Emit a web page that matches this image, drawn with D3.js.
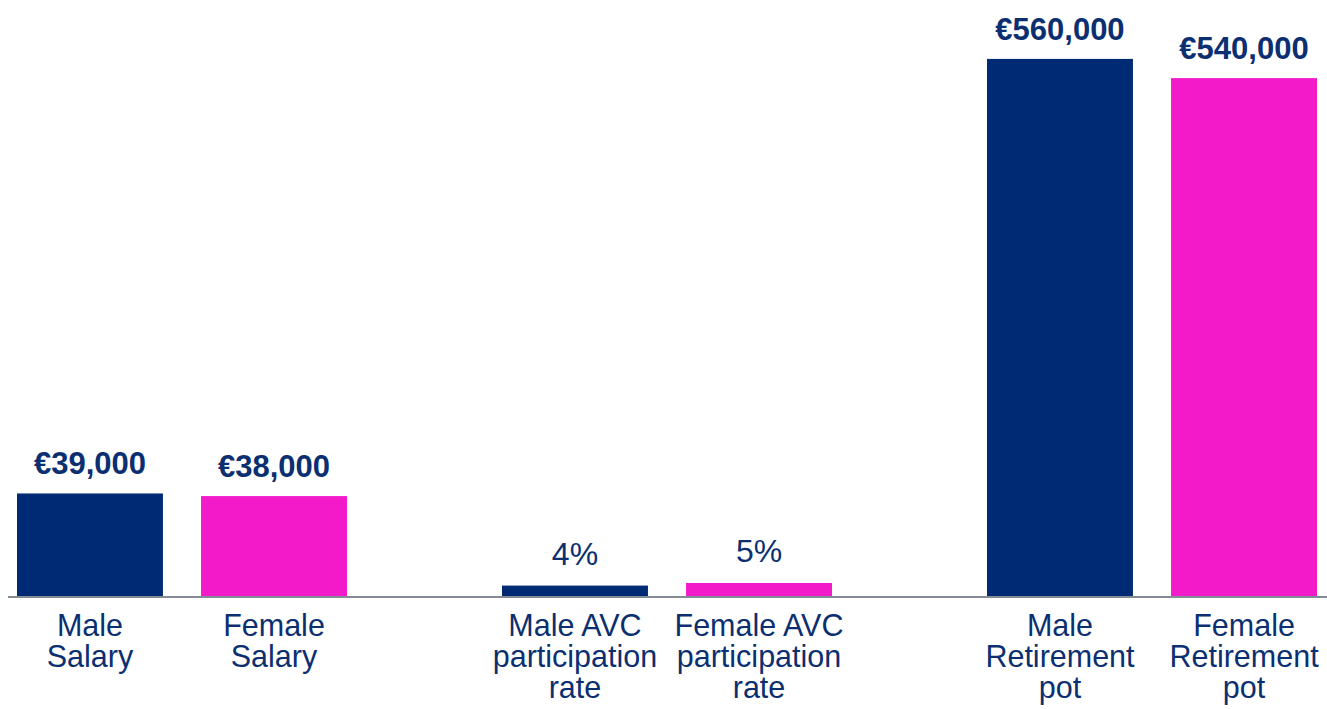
<!DOCTYPE html>
<html>
<head>
<meta charset="utf-8">
<script src="https://cdn.jsdelivr.net/npm/d3@7"></script>
<style>
  html, body { margin: 0; padding: 0; background: #ffffff; }
  svg { display: block; }
  text { font-family: "Liberation Sans", Arial, sans-serif; }
</style>
</head>
<body>
<svg id="chart" width="1327" height="709"></svg>
<script>
// Comparison groups, each with a male and a female bar
const groups = ["Salary", "AVC participation rate", "Retirement pot"];
const genders = ["Male", "Female"];

// Values per group (male, female)
const salaryValues = [39000, 38000];
const avcRateValues = [4, 5];           // percent
const retirementPotValues = [560000, 540000];

// Category labels under each bar, one array of lines per bar
const salaryLabels = [["Male", "Salary"], ["Female", "Salary"]];
const avcLabels = [["Male AVC", "participation", "rate"], ["Female AVC", "participation", "rate"]];
const potLabels = [["Male", "Retirement", "pot"], ["Female", "Retirement", "pot"]];

// Each group is measured on its own scale; upper end of each domain
const groupScaleMax = [205000, 207, 562000];

const euro = d3.format(",");
const rows = [
  { group: groups[0], values: salaryValues, labels: salaryLabels, kind: "euro" },
  { group: groups[1], values: avcRateValues, labels: avcLabels, kind: "pct" },
  { group: groups[2], values: retirementPotValues, labels: potLabels, kind: "euro" }
];

const navy = "#002b74";
const pink = "#f31ac9";
const textColor = "#0b2f70";

const svg = d3.select("#chart");
const chartWidth = 1327, baseline = 596, plotTop = 57;

const x0 = d3.scaleBand().domain(groups).range([17, 1317]).paddingInner(0.3196).paddingOuter(0);
const x1 = d3.scaleBand().domain(genders).range([0, x0.bandwidth()]).paddingInner(0.207).paddingOuter(0);
const color = d3.scaleOrdinal().domain(genders).range([navy, pink]);

const yScales = groups.map((g, i) =>
  d3.scaleLinear().domain([0, groupScaleMax[i]]).range([baseline, plotTop]));

const bars = [];
rows.forEach((r, gi) => {
  genders.forEach((gender, k) => {
    bars.push({ group: r.group, gi, gender, value: r.values[k], lines: r.labels[k], kind: r.kind });
  });
});

const center = d => x0(d.group) + x1(d.gender) + x1.bandwidth() / 2;
const g = svg.append("g");

// Bars
g.selectAll("rect.bar").data(bars).join("rect")
  .attr("class", "bar")
  .attr("x", d => x0(d.group) + x1(d.gender))
  .attr("width", x1.bandwidth())
  .attr("y", d => yScales[d.gi](d.value))
  .attr("height", d => baseline - yScales[d.gi](d.value))
  .attr("fill", d => color(d.gender));

// Baseline
svg.append("line")
  .attr("x1", 8).attr("x2", chartWidth)
  .attr("y1", baseline + 1).attr("y2", baseline + 1)
  .attr("stroke", "#868c95").attr("stroke-width", 2);

// Value labels
g.selectAll("text.value").data(bars).join("text")
  .attr("class", "value")
  .attr("text-anchor", "middle")
  .attr("x", center)
  .attr("y", d => yScales[d.gi](d.value) - (d.kind === "pct" ? 21 : 19))
  .attr("fill", textColor)
  .attr("font-size", d => d.kind === "pct" ? 32 : 31)
  .attr("font-weight", d => d.kind === "pct" ? "normal" : "bold")
  .text(d => d.kind === "pct" ? d.value + "%" : "€" + euro(d.value));

// Category labels
const cl = g.selectAll("text.cat").data(bars).join("text")
  .attr("class", "cat")
  .attr("text-anchor", "middle")
  .attr("fill", textColor)
  .attr("font-size", 30.5)
  .attr("x", center)
  .attr("y", 636);

cl.selectAll("tspan").data(d => d.lines.map(line => ({ line, x: center(d) })))
  .join("tspan")
  .attr("x", d => d.x)
  .attr("dy", (d, i) => i === 0 ? 0 : 31)
  .text(d => d.line);
</script>
</body>
</html>
